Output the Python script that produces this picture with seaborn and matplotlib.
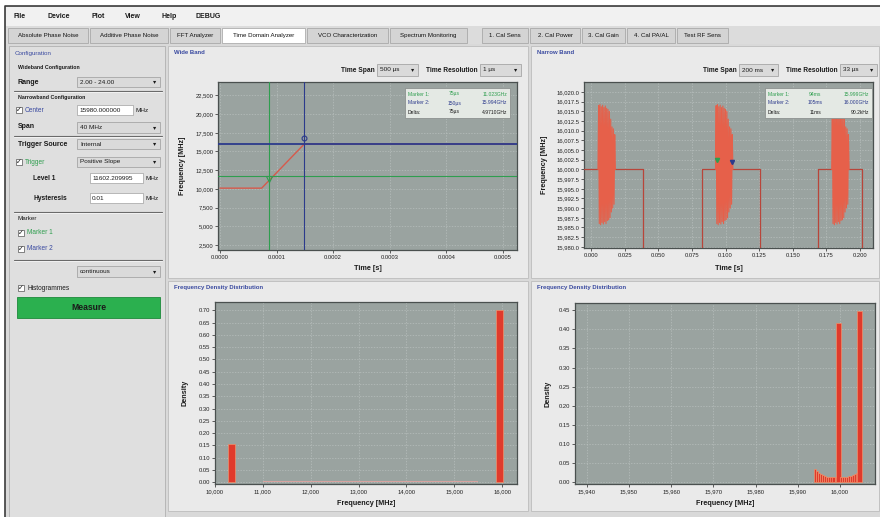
import matplotlib
matplotlib.use("Agg")
import matplotlib.pyplot as plt
import seaborn as sns
import pandas as pd
from matplotlib.patches import Rectangle
from matplotlib.ticker import FuncFormatter, FixedLocator

sns.set_theme(style="white")
plt.rcParams['font.family'] = ['Liberation Sans', 'DejaVu Sans']

W, H = 880, 517

# ---- data ----
# wide band: frequency step from ~10.1 GHz to 16 GHz
wide_t = [0.0, 0.0000737, 0.000149, 0.00052]
wide_f = [10100, 10100, 16000, 16000]
marker1_t, marker1_f = 0.0000871, 11700
marker2_t, marker2_f = 0.000149, 16000
wide_yticks = [2500, 5000, 7500, 10000, 12500, 15000, 17500, 20000, 22500]
wide_xticks = [0.0, 0.0001, 0.0002, 0.0003, 0.0004, 0.0005]

# narrow band: square wave (low level is far below the window) and ringing bursts
square_t = [-0.0055, 0.0385, 0.0385, 0.0821, 0.0821, 0.1256, 0.1256, 0.1691, 0.1691, 0.2015, 0.2015]
square_f = [16000, 16000, 10300, 10300, 16000, 16000, 10300, 10300, 16000, 16000, 10300]
burst_start = [0.0049, 0.0925, 0.1791]
burst_ms = [0.0, 0.5, 1.0, 1.5, 2.0, 2.5, 3.0, 3.5, 4.0, 4.5, 5.0, 5.5, 6.0, 6.5,
            7.0, 7.5, 8.0, 8.5, 9.0, 9.5, 10.0, 10.5, 11.0, 11.5, 12.0, 12.5, 13.0]
burst_mhz = [16000.0, 16016.5, 15986.0, 16016.8, 15985.7, 16016.2, 15986.3, 16016.6, 15985.9,
             16016.0, 15986.5, 16016.4, 15986.0, 16015.8, 15986.8, 16015.5, 15987.0, 16015.0,
             15987.5, 16013.0, 15989.0, 16011.0, 15990.0, 16010.5, 15991.0, 16009.0, 16000.0]
narrow_yticks = [15980.0, 15982.5, 15985.0, 15987.5, 15990.0, 15992.5, 15995.0, 15997.5, 16000.0,
                 16002.5, 16005.0, 16007.5, 16010.0, 16012.5, 16015.0, 16017.5, 16020.0]
narrow_xticks = [0.0, 0.025, 0.05, 0.075, 0.1, 0.125, 0.15, 0.175, 0.2]

# histograms
hist_wide_mhz = [10340, 15950]
hist_wide_density = [0.155, 0.70]
trail_mhz = [10750, 11250, 11750, 12250, 12750, 13250, 13750, 14250, 14750, 15250, 15650]
trail_density = [0.003, 0.004, 0.005, 0.005, 0.005, 0.005, 0.005, 0.005, 0.004, 0.004, 0.003]
hist_narrow_mhz = [15994.0, 15994.5, 15995.0, 15995.5, 15996.0, 15996.5, 15997.0, 15997.5,
                   15998.0, 15998.5, 15999.0, 15999.6, 16000.2, 16000.7, 16001.2, 16001.7,
                   16002.2, 16002.7, 16003.2, 16003.7, 16004.1, 16004.6]
hist_narrow_density = [0.034, 0.030, 0.024, 0.021, 0.019, 0.017, 0.015, 0.014, 0.013, 0.013,
                       0.013, 0.417, 0.013, 0.013, 0.014, 0.015, 0.016, 0.017, 0.019, 0.021,
                       0.023, 0.448]
hist_narrow_width = [0.55] * 11 + [1.2] + [0.55] * 9 + [1.2]

PLOT_BG = "#9aa3a0"
RED = "#e03a2c"
GREEN = "#2f9e4f"
BLUE = "#2c3a8c"

fig = plt.figure(figsize=(W / 100, H / 100), dpi=100)
fig.patch.set_facecolor("white")

gui = fig.add_axes([0, 0, 1, 1])
gui.set_xlim(0, W)
gui.set_ylim(H, 0)
gui.axis("off")


def rect(ax, x0, y0, x1, y1, fc, ec="none", lw=0.6, z=1):
    ax.add_patch(Rectangle((x0, y0), x1 - x0, y1 - y0, facecolor=fc, edgecolor=ec, lw=lw, zorder=z))


def txt(ax, x, y, s, size=4.8, color="#1a1a1a", ha="left", weight="normal", z=5, **kw):
    ax.text(x, y, s, fontsize=size, color=color, ha=ha, va="center", weight=weight, zorder=z, **kw)


def dropdown(x0, y0, x1, y1, s):
    rect(gui, x0, y0, x1, y1, "#dadada", "#9a9a9a", 0.5, 3)
    txt(gui, x0 + 3, (y0 + y1) / 2, s, 4.6)
    txt(gui, x1 - 5, (y0 + y1) / 2, "▾", 4.6, ha="center", family=["DejaVu Sans"])


def textbox(x0, y0, x1, y1, s):
    rect(gui, x0, y0, x1, y1, "white", "#a0a0a0", 0.5, 3)
    txt(gui, x0 + 2, (y0 + y1) / 2, s, 4.6)


def checkbox(x, y, label, color="#1a1a1a"):
    rect(gui, x, y - 3, x + 6, y + 3, "white", "#555555", 0.5, 3)
    txt(gui, x + 3, y, "✓", 5, ha="center", family=["DejaVu Sans"], weight="bold")
    txt(gui, x + 9, y, label, 4.7, color=color)


def separator(y):
    gui.plot([14, 162], [y, y], color="#6a6a6a", lw=0.8, zorder=3)
    gui.plot([14, 162], [y + 1, y + 1], color="#f5f5f5", lw=0.6, zorder=3)


# ---- window chrome ----
rect(gui, 5, 6, W, H, "#d9d9d9", z=0)
gui.plot([5, 5, W], [H, 6, 6], color="#3c3c3c", lw=1.2, zorder=2)
rect(gui, 6, 7, W, 26, "#f1f1f1", z=1)
for x, s in [(13, "File"), (48, "Device"), (92, "Plot"), (125, "View"), (162, "Help"), (195, "DEBUG")]:
    txt(gui, x, 16, s, 5.0, weight="bold")
rect(gui, 6, 26, W, 44, "#dcdcdc", z=1)
tabs = [(8, 88, "Absolute Phase Noise"), (90, 168, "Additive Phase Noise"), (170, 220, "FFT Analyzer"),
        (222, 305, "Time Domain Analyzer"), (307, 388, "VCO Characterization"),
        (390, 467, "Spectrum Monitoring"), (482, 528, "1. Cal Sens"), (530, 580, "2. Cal Power"),
        (582, 625, "3. Cal Gain"), (627, 675, "4. Cal PA/AL"), (677, 728, "Test RF Sens")]
for x0, x1, s in tabs:
    sel = s == "Time Domain Analyzer"
    rect(gui, x0, 28, x1, 43, "white" if sel else "#d4d4d4", "#a0a0a0", 0.5, 2)
    txt(gui, (x0 + x1) / 2, 35.5, s, 4.4, ha="center", color="#111111")

# ---- configuration panel ----
rect(gui, 9, 46, 165, H, "#dfdfdf", "#b0b0b0", 0.6, 1)
txt(gui, 15, 53, "Configuration", 4.5, color="#3a4aa0")
txt(gui, 18, 68, "Wideband Configuration", 3.8, weight="bold")
txt(gui, 18, 82, "Range", 5.0, weight="bold")
dropdown(77, 77, 160, 87, "2.00 - 24.00")
separator(91)
txt(gui, 18, 97, "Narrowband Configuration", 3.8, weight="bold")
checkbox(16, 110, "Center", "#3a4aa0")
textbox(77, 105, 133, 115, "15980.000000")
txt(gui, 136, 110, "MHz", 4.6)
txt(gui, 18, 127, "Span", 5.0, weight="bold")
dropdown(77, 122, 160, 133, "40 MHz")
separator(136)
txt(gui, 18, 144, "Trigger Source", 5.0, weight="bold")
dropdown(77, 139, 160, 149, "Internal")
checkbox(16, 162, "Trigger", GREEN)
dropdown(77, 157, 160, 167, "Positive Slope")
txt(gui, 33, 178, "Level 1", 4.8, weight="bold")
textbox(90, 173, 143, 183, "11602.209995")
txt(gui, 146, 178, "MHz", 4.6)
txt(gui, 33, 198, "Hysteresis", 4.8, weight="bold")
textbox(90, 193, 143, 203, "0.01")
txt(gui, 146, 198, "MHz", 4.6)
separator(212)
txt(gui, 18, 218, "Marker", 4.5)
checkbox(18, 233, "Marker 1", GREEN)
checkbox(18, 249, "Marker 2", "#3a4aa0")
separator(260)
dropdown(77, 266, 160, 277, "continuous")
checkbox(18, 288, "Histogrammes")
rect(gui, 17, 297, 160, 318, "#2bb04f", "#1d8a3a", 0.6, 3)
txt(gui, 88.5, 307.5, "Measure", 6.2, ha="center", weight="bold")

# ---- chart panels ----
panels = [(168, 46, 528, 278, "Wide Band"), (531, 46, 879, 278, "Narrow Band"),
          (168, 281, 528, 511, "Frequency Density Distribution"),
          (531, 281, 879, 511, "Frequency Density Distribution")]
for x0, y0, x1, y1, s in panels:
    rect(gui, x0, y0, x1, y1, "#eaeaea", "#bdbdbd", 0.6, 1)
    txt(gui, x0 + 6, y0 + 7, s, 4.3, color="#3a4aa0", weight="bold")

txt(gui, 375, 70, "Time Span", 4.8, ha="right", weight="bold")
dropdown(377, 64, 418, 76, "500 µs")
txt(gui, 478, 70, "Time Resolution", 4.8, ha="right", weight="bold")
dropdown(480, 64, 521, 76, "1 µs")
txt(gui, 737, 70, "Time Span", 4.8, ha="right", weight="bold")
dropdown(739, 64, 778, 76, "200 ms")
txt(gui, 838, 70, "Time Resolution", 4.8, ha="right", weight="bold")
dropdown(840, 64, 877, 76, "33 µs")


def plot_axes(x0, y0, x1, y1):
    ax = fig.add_axes([x0 / W, 1 - y1 / H, (x1 - x0) / W, (y1 - y0) / H])
    ax.set_facecolor(PLOT_BG)
    for sp in ax.spines.values():
        sp.set_color("#4a504f")
        sp.set_linewidth(0.9)
    ax.tick_params(labelsize=4.2, length=2, width=0.5, colors="#222222", pad=1.5,
                   bottom=True, left=True)
    ax.grid(True, color="#b8bfbd", linestyle=(0, (2, 2)), linewidth=0.5)
    ax.set_axisbelow(True)
    return ax


def label_axes(ax, x0, y0, x1, y1, xlab, ylab, ylab_x, xlab_y):
    ax.set_xlabel(xlab, fontsize=5.2, weight="bold", color="#1a1a1a")
    ax.set_ylabel(ylab, fontsize=5.2, weight="bold", color="#1a1a1a")
    ax.yaxis.set_label_coords((ylab_x - x0) / (x1 - x0), 0.5)
    ax.xaxis.set_label_coords(0.5, (y1 - xlab_y) / (y1 - y0))


# wide band
ax1 = plot_axes(218, 82, 517, 250)
sns.lineplot(x=wide_t, y=wide_f, ax=ax1, color="#d65a4c", lw=1.0, estimator=None, sort=False, zorder=3)
ax1.axvline(marker1_t, color=GREEN, lw=0.8, zorder=4)
ax1.axhline(marker1_f, color=GREEN, lw=0.8, zorder=4)
ax1.axvline(marker2_t, color=BLUE, lw=0.8, zorder=4)
ax1.axhline(marker2_f, color=BLUE, lw=1.3, zorder=4)
ax1.plot(marker1_t, marker1_f - 400, marker="v", color=GREEN, ms=4, mfc="none", mew=0.8, zorder=5)
ax1.plot(marker2_t, marker2_f + 800, marker="o", color=BLUE, ms=3.5, mfc="none", mew=0.8, zorder=5)
ax1.set_xlim(-0.0000035, 0.000525)
ax1.set_ylim(1830, 24290)
ax1.xaxis.set_major_locator(FixedLocator(wide_xticks))
ax1.yaxis.set_major_locator(FixedLocator(wide_yticks))
ax1.xaxis.set_major_formatter(FuncFormatter(lambda v, p: f"{v:.4f}"))
ax1.yaxis.set_major_formatter(FuncFormatter(lambda v, p: f"{v:,.0f}"))
label_axes(ax1, 218, 82, 517, 250, "Time [s]", "Frequency [MHz]", 186, 265)

# narrow band
ax2 = plot_axes(584, 82, 873, 248)
sns.lineplot(x=square_t, y=square_f, ax=ax2, color="#b8453a", lw=0.9, estimator=None, sort=False, zorder=3)
bursts = pd.DataFrame({
    "t": [s + m / 1000 for s in burst_start for m in burst_ms],
    "f": [f for s in burst_start for f in burst_mhz],
    "burst": [i for i, s in enumerate(burst_start) for m in burst_ms],
})
sns.lineplot(data=bursts, x="t", y="f", units="burst", estimator=None, sort=False, ax=ax2,
             color="#e6604a", lw=0.8, zorder=4)
ax2.plot(0.0933, 16002.4, marker="v", color=GREEN, ms=3, zorder=5)
ax2.plot(0.1045, 16002.0, marker="v", color=BLUE, ms=3, zorder=5)
ax2.set_xlim(-0.0055, 0.2099)
ax2.set_ylim(15979.7, 16022.6)
ax2.xaxis.set_major_locator(FixedLocator(narrow_xticks))
ax2.yaxis.set_major_locator(FixedLocator(narrow_yticks))
ax2.xaxis.set_major_formatter(FuncFormatter(lambda v, p: f"{v:.3f}"))
ax2.yaxis.set_major_formatter(FuncFormatter(lambda v, p: f"{v:,.1f}"))
label_axes(ax2, 584, 82, 873, 248, "Time [s]", "Frequency [MHz]", 548, 265)

# wide histogram
ax3 = plot_axes(215, 302, 517, 484)
ax3.bar(trail_mhz, trail_density, width=500, color="#d8a3a0", lw=0, zorder=2)
ax3.bar(hist_wide_mhz, hist_wide_density, width=140, color=RED, edgecolor="#f0906a", lw=0.5, zorder=3)
ax3.set_xlim(10000, 16312)
ax3.set_ylim(-0.007, 0.734)
ax3.xaxis.set_major_locator(FixedLocator([10000, 11000, 12000, 13000, 14000, 15000, 16000]))
ax3.yaxis.set_major_locator(FixedLocator([i * 0.05 for i in range(15)]))
ax3.xaxis.set_major_formatter(FuncFormatter(lambda v, p: f"{v:,.0f}"))
ax3.yaxis.set_major_formatter(FuncFormatter(lambda v, p: f"{v:.2f}"))
label_axes(ax3, 215, 302, 517, 484, "Frequency [MHz]", "Density", 188, 500)

# narrow histogram
ax4 = plot_axes(575, 303, 875, 484)
ax4.bar(hist_narrow_mhz, hist_narrow_density, width=hist_narrow_width, color=RED,
        edgecolor="#f0906a", lw=0.5, zorder=3)
ax4.set_xlim(15937.2, 16008.3)
ax4.set_ylim(-0.0045, 0.469)
ax4.xaxis.set_major_locator(FixedLocator([15940, 15950, 15960, 15970, 15980, 15990, 16000]))
ax4.yaxis.set_major_locator(FixedLocator([i * 0.05 for i in range(10)]))
ax4.xaxis.set_major_formatter(FuncFormatter(lambda v, p: f"{v:,.0f}"))
ax4.yaxis.set_major_formatter(FuncFormatter(lambda v, p: f"{v:.2f}"))
label_axes(ax4, 575, 303, 875, 484, "Frequency [MHz]", "Density", 551, 500)

# ---- marker tables drawn on top of the charts ----
top = fig.add_axes([0, 0, 1, 1])
top.set_xlim(0, W)
top.set_ylim(H, 0)
top.axis("off")
tables = [
    (405, 88, 510, 118, [("Marker 1:", "75µs", "11.023GHz", GREEN),
                          ("Marker 2:", "150µs", "15.994GHz", BLUE),
                          ("Delta:", "75µs", "4.9710GHz", "#1a1a1a")]),
    (765, 88, 872, 118, [("Marker 1:", "94ms", "15.999GHz", GREEN),
                          ("Marker 2:", "105ms", "16.000GHz", BLUE),
                          ("Delta:", "11ms", "90.2kHz", "#1a1a1a")]),
]
for x0, y0, x1, y1, rows in tables:
    rect(top, x0, y0, x1, y1, "#e4e9e4", "#8c918f", 0.6, 2)
    for i, (a, b, c, col) in enumerate(rows):
        y = y0 + 6 + i * 9
        txt(top, x0 + 3, y, a, 3.6, color=col)
        txt(top, x0 + 0.47 * (x1 - x0), y, b, 3.6, color=col, ha="center")
        txt(top, x1 - 3, y, c, 3.6, color=col, ha="right")

fig.savefig("out.png", dpi=100)
